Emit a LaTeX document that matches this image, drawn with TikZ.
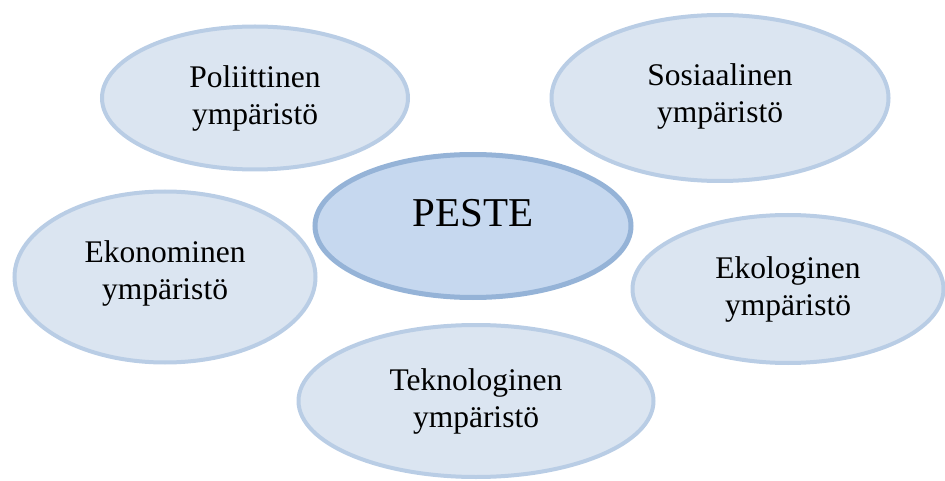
\documentclass[tikz,border=0pt]{standalone}
\usepackage{fontspec}
\setmainfont{Liberation Serif}
\usetikzlibrary{shapes.geometric}

\definecolor{envfill}{HTML}{DBE5F1}
\definecolor{envline}{HTML}{B9CDE5}
\definecolor{corefill}{HTML}{C6D8EF}
\definecolor{coreline}{HTML}{95B3D7}

\begin{document}
\begin{tikzpicture}[
  x=1pt, y=-1pt,
  every node/.style={ellipse, align=center, inner sep=0pt},
  envbox/.style={draw=envline, fill=envfill, line width=4pt, font=\fontsize{31.5}{37}\selectfont},
  corebox/.style={draw=coreline, fill=corefill, line width=5pt, font=\fontsize{41}{48}\selectfont},
]
\useasboundingbox (0,0) rectangle (945,481);

% Nodes
\node (core) [corebox, minimum width=316pt, minimum height=143pt, text depth=26pt] at (473,226) {PESTE};
\node (pol)  [envbox, minimum width=306pt, minimum height=143pt] at (255,98)  {Poliittinen\\ympäristö};
\node (sos)  [envbox, minimum width=337pt, minimum height=166pt, text depth=10pt] at (720,98)  {Sosiaalinen\\ympäristö};
\node (eko)  [envbox, minimum width=301pt, minimum height=171pt, text depth=14pt] at (165,277) {Ekonominen\\ympäristö};
\node (ekol) [envbox, minimum width=311pt, minimum height=148pt] at (788,289) {Ekologinen\\ympäristö};
\node (tek)  [envbox, minimum width=355pt, minimum height=152pt] at (476,401) {Teknologinen\\ympäristö};

\end{tikzpicture}
\end{document}
